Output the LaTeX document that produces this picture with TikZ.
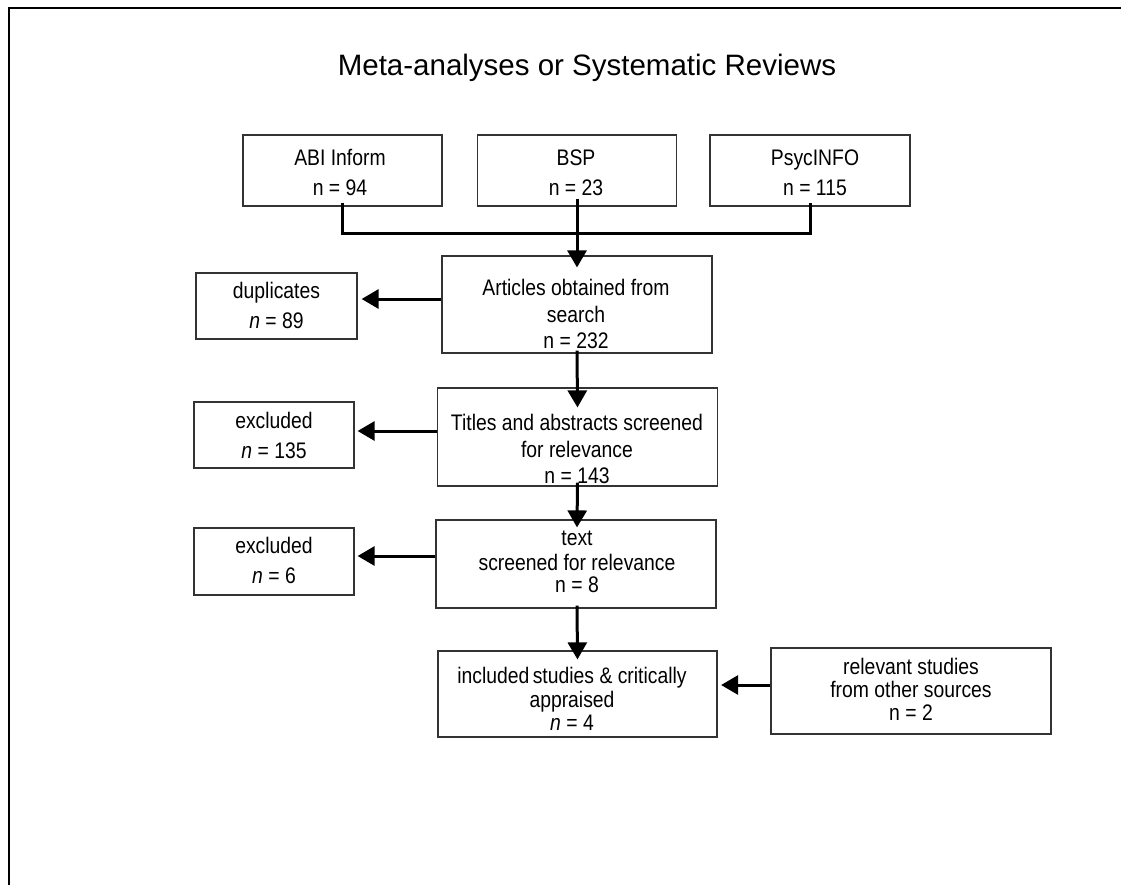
\documentclass[tikz,border=0pt]{standalone}
\usepackage{fontspec}
\setmainfont{Liberation Sans}
\newfontfamily\boxfont[FakeStretch=0.86]{Liberation Sans}
\usetikzlibrary{arrows.meta}
\tikzset{
  box/.style={draw=black!80, line width=1.2pt, inner sep=0pt},
  txt/.style={font=\boxfont\fontsize{22.5}{27}\selectfont, anchor=base, inner sep=0pt},
  conn/.style={line width=3pt},
  arr/.style={line width=3pt, -{Triangle[length=17pt,width=19pt]}},
  frame/.style={line width=2pt}
}
\begin{document}
\begin{tikzpicture}[x=1pt,y=-1pt]
\useasboundingbox (0,0) rectangle (1121,884);
\draw[frame] (9,890) -- (9,8) -- (1125,8);

\node[font=\fontsize{29.5}{35}\selectfont, anchor=base, inner sep=0pt] (title) at (587,75) {Meta-analyses or Systematic Reviews};

% top sources
\node[box, minimum width=199pt, minimum height=71pt] (abi) at (342.5,170.5) {};
\node[txt] (abi1) at (340,165) {ABI Inform};
\node[txt] (abi2) at (340,195) {n = 94};
\node[box, minimum width=199pt, minimum height=71pt] (bsp) at (577,170.5) {};
\node[txt] (bsp1) at (576,165) {BSP};
\node[txt] (bsp2) at (576,195) {n = 23};
\node[box, minimum width=200pt, minimum height=71pt] (psyc) at (810,170.5) {};
\node[txt] (psyc1) at (815,165) {PsycINFO};
\node[txt] (psyc2) at (815,195) {n = 115};

% main column
\node[box, minimum width=270pt, minimum height=97pt] (art) at (577,304.5) {};
\node[txt] (art1) at (576,295) {Articles obtained from};
\node[txt] (art2) at (576,322) {search};
\node[txt] (art3) at (576,348) {n = 232};

\node[box, minimum width=280pt, minimum height=98pt] (tit) at (577.5,437) {};
\node[txt] (tit1) at (577,430) {Titles and abstracts screened};
\node[txt] (tit2) at (577,457) {for relevance};
\node[txt] (tit3) at (577,483) {n = 143};

\node[box, minimum width=280pt, minimum height=88pt] (tb) at (576,564) {};
\node[txt] (tb1) at (577,545) {text};
\node[txt] (tb2) at (577,570) {screened for relevance};
\node[txt] (tb3) at (577,592) {n = 8};

\node[box, minimum width=279pt, minimum height=86pt] (inc) at (577.5,694) {};
\node[txt] (inc1) at (572,683) {included\hspace{-2pt} studies \& critically};
\node[txt] (inc2) at (572,707) {appraised};
\node[txt] (inc3) at (572,730) {\textit{n} = 4};

% side boxes
\node[box, minimum width=161pt, minimum height=66pt] (dup) at (276.5,306) {};
\node[txt] (dup1) at (276.5,298) {duplicates};
\node[txt] (dup2) at (276.5,328) {\textit{n} = 89};

\node[box, minimum width=160pt, minimum height=66pt] (ex1) at (274,435) {};
\node[txt] (ex11) at (274,428) {excluded};
\node[txt] (ex12) at (274,458) {\textit{n} = 135};

\node[box, minimum width=160pt, minimum height=67pt] (ex2) at (274,561.5) {};
\node[txt] (ex21) at (274,553) {excluded};
\node[txt] (ex22) at (274,583) {\textit{n} = 6};

\node[box, minimum width=280pt, minimum height=86pt] (rel) at (911,691) {};
\node[txt] (rel1) at (911,674) {relevant studies};
\node[txt] (rel2) at (911,697) {from other sources};
\node[txt] (rel3) at (911,720) {n = 2};

% connectors
\coordinate (jn) at (577,233);
\draw[conn] ([yshift=4pt]abi.south) |- (jn) -| ([yshift=4pt]psyc.south);
\draw[arr] ([yshift=8pt]bsp.south) -- ([yshift=-12pt]art.north);
\draw[arr] ([yshift=3pt]art.south) -- ([yshift=-20pt]tit.north);
\draw[arr] ([yshift=4pt]tit.south) -- ([xshift=1pt,yshift=-8pt]tb.north);
\draw[arr] ([xshift=1pt,yshift=3pt]tb.south) -- ([yshift=-9pt]inc.north);

\draw[arr] ([yshift=5.5pt]art.west) -- ([xshift=4pt,yshift=7pt]dup.east);
\draw[arr] ([yshift=6pt]tit.west) -- ([xshift=3pt,yshift=4pt]ex1.east);
\draw[arr] ([yshift=8pt]tb.west) -- ([xshift=3pt,yshift=5.5pt]ex2.east);
\draw[arr] ([yshift=6pt]rel.west) -- ([xshift=3.5pt,yshift=9pt]inc.east);
\end{tikzpicture}
\end{document}
